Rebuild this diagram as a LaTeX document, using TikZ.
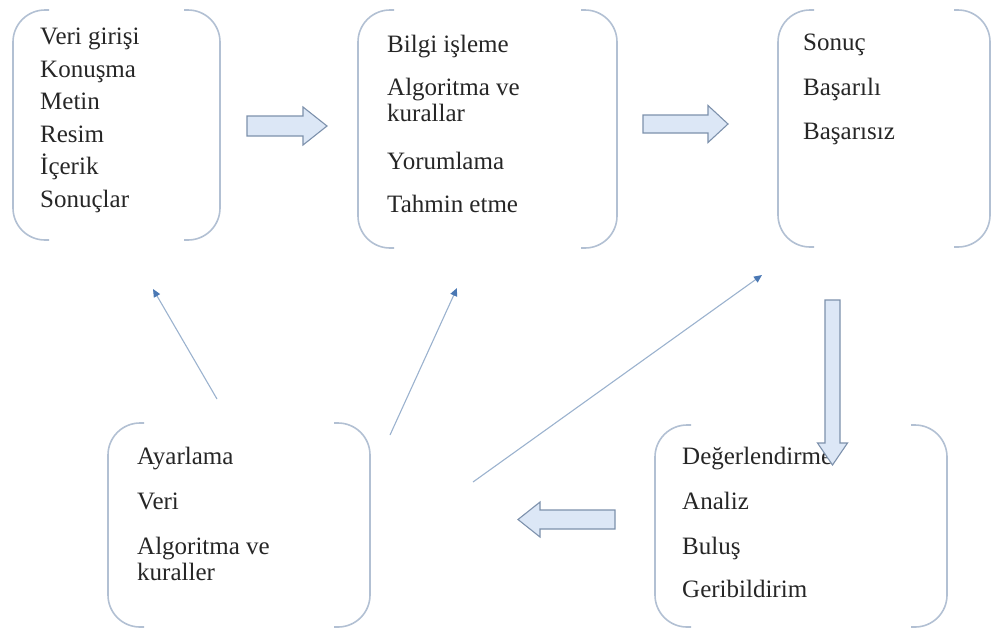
\documentclass[tikz,border=0pt]{standalone}
\usepackage{fontspec}
\setmainfont{Liberation Serif}
\usetikzlibrary{positioning}
\usetikzlibrary{arrows.meta}
\definecolor{bracketgray}{RGB}{178,192,211}
\definecolor{arrowfill}{RGB}{220,231,246}
\definecolor{arrowline}{RGB}{125,145,172}
\definecolor{linkblue}{RGB}{155,178,206}
\definecolor{tipblue}{RGB}{74,120,180}
\definecolor{textgray}{RGB}{38,38,38}
\tikzset{x=1pt, y=-1pt, % Work in pixels of the page, y pointing down
      frame/.style={ % Empty box that the brackets are drawn around
      inner sep=0pt, outer sep=0pt},
      items/.style={ % The list of words in a box, placed by its last line
      font=\fontsize{25}{26}\selectfont,
      text=textgray, align=left, inner sep=0pt, anchor=base west},
      bracket/.style={ % Round brackets on both sides of a box
      draw=bracketgray, line width=1.6pt, rounded corners=32pt},
      blockarrow/.style={ % Thick hollow arrows between the boxes
      draw=arrowline, fill=arrowfill, line width=1.1pt, line join=miter},
      feedback/.style={ % Thin arrows going back to the top row
      draw=linkblue, line width=1.1pt,
      -{Triangle[length=8pt, width=7pt, color=tipblue]}},
      pics/fatarrow/.style n args={4}{code={ % length, half shaft, half head, head length
      \path[blockarrow] (0,-#2) -- (#1-#4,-#2) -- (#1-#4,-#3) -- (#1,0)
            -- (#1-#4,#3) -- (#1-#4,#2) -- (0,#2) -- cycle;}}}

\begin{document}
\begin{tikzpicture}
      \useasboundingbox (0,0) rectangle (992,630);
      \node[frame, minimum width=207pt, minimum height=230pt] (input) at (116.5,125) {};
      \node[frame, minimum width=259pt, minimum height=238pt] (process) at (487.5,129) {};
      \node[frame, minimum width=212pt, minimum height=237pt] (result) at (884,128.5) {};
      \node[frame, minimum width=292pt, minimum height=202pt] (evaluate) at (801,526) {};
      \node[frame, minimum width=262pt, minimum height=204pt] (adjust) at (239,525) {};
      \foreach \f in {input,process,result,evaluate,adjust}{
            \draw[bracket] ([xshift=36pt]\f.north west) -- (\f.north west) -- (\f.south west) -- ([xshift=36pt]\f.south west);
            \draw[bracket] ([xshift=-36pt]\f.north east) -- (\f.north east) -- (\f.south east) -- ([xshift=-36pt]\f.south east);
      }
      \node[items] (inputtext) at ([xshift=27pt, yshift=-197.5pt]input.north west)
            {Veri girişi\\[6.6pt]Konuşma\\[6.6pt]Metin\\[6.6pt]Resim\\[6.6pt]İçerik\\[6.6pt]Sonuçlar};
      \node[items] (processtext) at ([xshift=29pt, yshift=-202.5pt]process.north west)
            {Bilgi işleme\\[17pt]Algoritma ve\\kurallar\\[22pt]Yorumlama\\[17pt]Tahmin etme};
      \node[items] (resulttext) at ([xshift=25pt, yshift=-129.5pt]result.north west)
            {Sonuç\\[19pt]Başarılı\\[18pt]Başarısız};
      \node[items] (evaluatetext) at ([xshift=27pt, yshift=-172.5pt]evaluate.north west)
            {Değerlendirme\\[19pt]Analiz\\[19pt]Buluş\\[17pt]Geribildirim};
      \node[items] (adjusttext) at ([xshift=29pt, yshift=-157.5pt]adjust.north west)
            {Ayarlama\\[19pt]Veri\\[19pt]Algoritma ve\\kuraller};
      \pic at (247,126) {fatarrow={80}{10}{19}{24}};
      \pic at (643,124) {fatarrow={85}{9}{18.5}{20}};
      \pic[rotate=-90] at (832.5,300) {fatarrow={165}{7.5}{15}{22}};
      \pic[rotate=180] at (615,519.5) {fatarrow={97}{9.5}{17.5}{22}};
      \draw[feedback] ([xshift=109pt, yshift=24pt]adjust.north west) -- ([xshift=140pt, yshift=-49pt]input.south west);
      \draw[feedback] ([xshift=20pt, yshift=-12pt]adjust.north east) -- ([xshift=99pt, yshift=-40pt]process.south west);
      \draw[feedback] ([xshift=103pt, yshift=-59pt]adjust.north east) -- ([xshift=-16pt, yshift=-28pt]result.south west);
\end{tikzpicture}
\end{document}
